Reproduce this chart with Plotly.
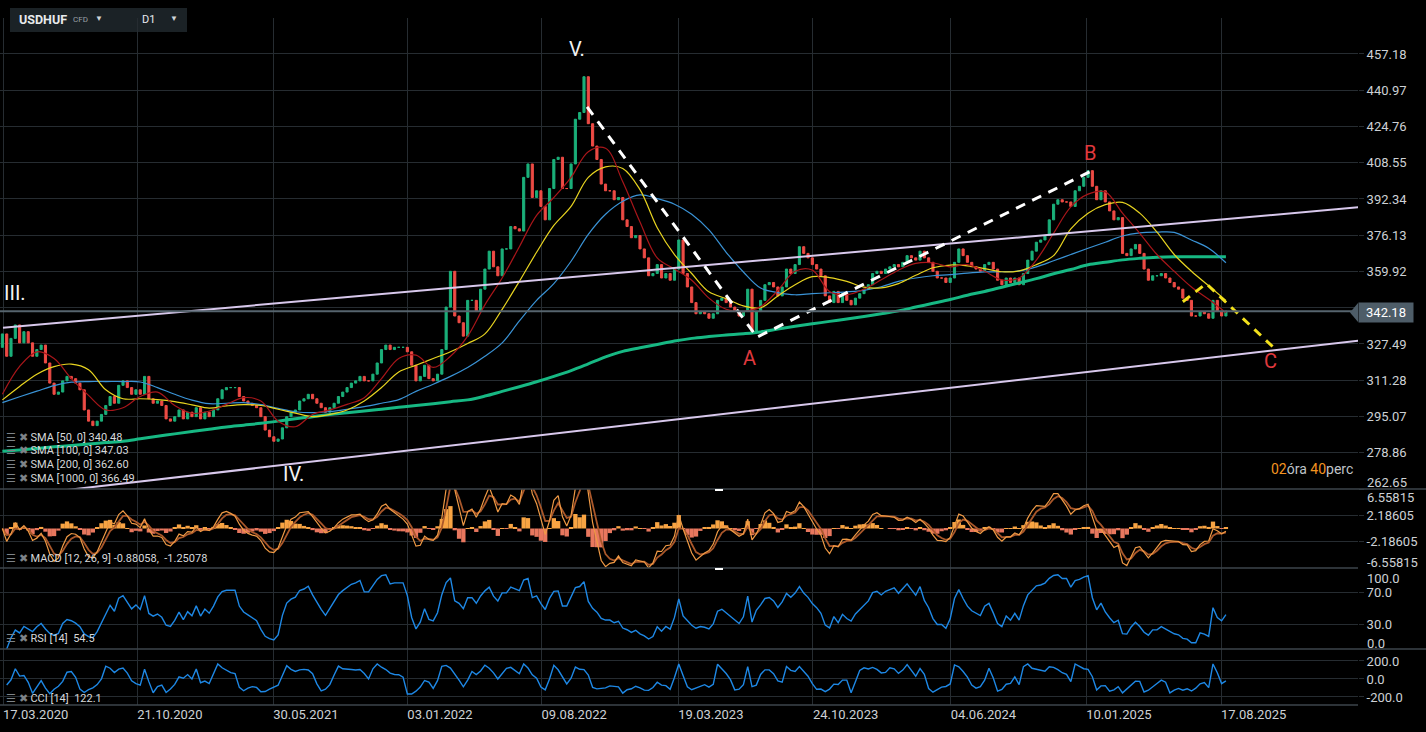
import numpy as np
import pandas as pd
import plotly.graph_objects as go
from plotly.subplots import make_subplots


# USDHUF, one close per week (first week starts 16.03.2020)
week_start = "2020-03-16"
first_open = 326.0
closes = [
    332, 322, 330, 336, 328, 333, 328, 322, 325, 327,
    319, 310, 305, 306, 311, 313, 312, 310, 307, 298,
    293, 291, 293, 296, 300, 304, 301, 309, 311, 308,
    305, 307, 305, 313, 303, 301, 302, 300, 294, 293,
    295, 298, 294, 297, 295, 299, 294, 297, 295, 298,
    303, 307, 308, 308, 308, 304, 302, 301, 300, 299,
    295, 289, 286, 284, 285, 290, 295, 297, 298, 302,
    303, 305, 303, 301, 299, 297, 299, 301, 304, 306,
    308, 310, 311, 313, 311, 311, 314, 319, 325, 327,
    325, 326, 326, 326, 324, 318, 311, 313, 318, 312,
    311, 314, 325, 344, 360, 340, 337, 331, 347, 347,
    342, 352, 361, 369, 362, 358, 370, 370, 380, 379,
    378, 402, 408, 393, 396, 389, 383, 397, 410, 411,
    397, 397, 408, 428, 431, 447, 426, 416, 410, 399,
    396, 396, 392, 393, 383, 380, 375, 376, 370, 366,
    358, 359, 363, 357, 359, 356, 361, 374, 359, 353,
    346, 341, 342, 341, 339, 341, 347, 348, 346, 344,
    342, 340, 342, 352, 333, 342, 347, 354, 355, 353,
    349, 353, 361, 359, 363, 371, 368, 366, 363, 361,
    358, 349, 346, 351, 346, 350, 347, 345, 348, 350,
    352, 354, 359, 360, 359, 361, 362, 363, 362, 364,
    367, 366, 365, 369, 366, 364, 360, 357, 357, 355,
    357, 364, 370, 367, 364, 362, 361, 360, 363, 364,
    361, 356, 354, 357, 355, 357, 354, 359, 365, 369,
    373, 374, 376, 383, 390, 392, 391, 391, 389, 396,
    398, 402, 405, 398, 392, 396, 391, 387, 383, 384,
    368, 367, 370, 372, 368, 361, 356, 358, 358, 359,
    357, 355, 353, 352, 348, 347, 340, 340, 342, 341,
    339, 347, 342, 340, 342.18,
]

# moving averages, one value every 4th week
sma_every = 4
sma50 = [
    305, 317.5, 324, 321, 312, 304.5, 298, 299, 304, 306,
    300, 296.5, 297.5, 300.5, 303.5, 302, 293, 290.5, 296, 298,
    300.5, 303.5, 312, 321, 322.5, 317, 322, 331, 345, 357,
    371, 385, 393, 402, 413.5, 415, 400, 382, 366, 361,
    356, 348, 343, 342, 344.2, 351.5, 360, 360.5, 351, 349.5,
    352, 356.2, 360.5, 363.5, 363.8, 362, 363, 360, 356.2, 357,
    365, 377, 388.8, 394.5, 395.5, 386, 377, 367.5, 360, 353,
    347.5, 341.5,
]
sma100 = [
    302.5, 308.5, 314, 317.4, 318.5, 316, 307, 303, 303, 302.6,
    301.7, 300.3, 298.8, 299.8, 300.4, 300, 298.3, 296.6, 295, 296,
    298, 302, 308, 315, 318, 321, 324, 327.7, 332, 343,
    355.5, 368.5, 380.5, 389, 402, 406.7, 406, 396.5, 379.5, 367.5,
    359, 350.8, 347.8, 344.5, 343.7, 349, 354, 357.6, 357.2, 355.5,
    352.9, 352.6, 354.5, 358.2, 361.6, 362.8, 362.4, 361.2, 359.8, 360.2,
    363, 367, 379, 386, 389.8, 390.8, 386, 377.5, 367.5, 360,
    353.5, 347,
]
sma200 = [
    301.3, 303.9, 306.4, 308.9, 310.4, 310.7, 310.7, 310.7, 310.5, 308,
    305, 302.4, 300.8, 301, 301.3, 300.4, 298.7, 297.2, 296.8, 297.3,
    298.3, 299.5, 301, 302.6, 306.3, 309.5, 313, 317, 322, 328,
    337.8, 347, 354.5, 364.5, 376.5, 385.5, 391.3, 394.2, 392.5, 390,
    385.5, 378.5, 368.5, 359.7, 352.5, 350.5, 349.5, 350, 350.4, 350.8,
    351.5, 353.1, 355.5, 357, 358, 358.5, 359.2, 359.7, 359.8, 360.2,
    362, 364.7, 367.5, 370.3, 373, 375.8, 377.2, 377.5, 377.4, 374,
    370.3, 363.8,
]
sma1000 = [
    279.5, 280.1, 280.8, 281.5, 282.1, 282.8, 283.4, 284, 285.1, 286.2,
    287.3, 288.4, 289.4, 290.4, 291.2, 292, 293, 294.1, 295, 296,
    296.7, 297.5, 298.3, 299.2, 300, 300.8, 301.7, 302.5, 304.2, 306.3,
    308.4, 310.6, 313, 315.6, 318.6, 321.7, 324.2, 325.8, 327.3, 328.8,
    330, 330.8, 331.5, 332.1, 332.9, 334.2, 335.4, 336.5, 337.6, 338.7,
    339.8, 341, 342.3, 344, 345.7, 347.4, 349.3, 351, 352.9, 354.8,
    356.7, 358.9, 360.8, 362.9, 364, 365.1, 365.8, 366.3, 366.5, 366.5,
    366.5, 366.5,
]

# hand drawn lines on the chart
channel_dates = ["2020-03-17", "2026-03-28"]
channel_upper = [334.8, 388.6]
channel_lower = [258.9, 329.0]
wave_va_dates = ["2022-10-22", "2023-07-22"]
wave_va_prices = [433.5, 331.7]
wave_ab_dates = ["2023-07-27", "2025-01-16"]
wave_ab_prices = [330.8, 404.5]
wave_c_dates = ["2025-06-16", "2025-07-24", "2025-11-14"]
wave_c_prices = [346.4, 354.5, 325.0]

tick_dates = [
    "2020-03-17", "2020-10-21", "2021-05-30", "2022-01-03", "2022-08-09",
    "2023-03-19", "2023-10-24", "2024-06-04", "2025-01-10", "2025-08-17",
]
price_ticks = [262.65, 278.86, 295.07, 311.28, 327.49, 343.70, 359.92,
               376.13, 392.34, 408.55, 424.76, 440.97, 457.18]
macd_ticks = [-2.18605, 2.18605]
rsi_ticks = [30, 70]
cci_ticks = [-200, 0, 200]

sma_labels = ["SMA [50, 0] 340.48", "SMA [100, 0] 347.03",
              "SMA [200, 0] 362.60", "SMA [1000, 0] 366.49"]
macd_label = "MACD [12, 26, 9] -0.88058,  -1.25078"
rsi_label = "RSI [14]  54.5"
cci_label = "CCI [14]  122.1"


# ---- bars and indicators --------------------------------------------------
# the bars are weekly, so the indicator lengths are given in weeks
MACD_FAST, MACD_SLOW, MACD_SIGNAL = 3, 6, 3
RSI_WEEKS = 6
CCI_WEEKS = 5

dates = pd.date_range(week_start, periods=len(closes), freq="7D")
close = pd.Series(closes, dtype=float)
opens = pd.Series([first_open] + closes[:-1], dtype=float)
highs = np.maximum(opens, close)
lows = np.minimum(opens, close)
sma_dates = dates[::sma_every]

fast = close.ewm(span=MACD_FAST, adjust=False).mean()
slow = close.ewm(span=MACD_SLOW, adjust=False).mean()
macd = fast - slow
signal = macd.ewm(span=MACD_SIGNAL, adjust=False).mean()
hist = macd - signal

delta = close.diff()
gain = delta.clip(lower=0).ewm(alpha=1 / RSI_WEEKS, adjust=False).mean()
loss = (-delta.clip(upper=0)).ewm(alpha=1 / RSI_WEEKS, adjust=False).mean()
rsi = 100 - 100 / (1 + gain / loss.replace(0, np.nan))

tp = (highs + lows + close) / 3
tp_mean = tp.rolling(CCI_WEEKS, min_periods=2).mean()
tp_dev = tp.rolling(CCI_WEEKS, min_periods=2).apply(
    lambda v: np.mean(np.abs(v - v.mean())), raw=True)
cci = (tp - tp_mean) / (0.015 * tp_dev.replace(0, np.nan))


# ---- page geometry (pixels of the 1426x732 picture) -----------------------
PLOT_W = 1358
TOP, BOTTOM = 18, 705
PX_PER_DAY = 0.61546


def px(x):
    return x / PLOT_W


def py(y):
    return (BOTTOM - y) / (BOTTOM - TOP)


day0 = pd.Timestamp("2020-03-17")
x_range = [day0 - pd.Timedelta(days=3 / PX_PER_DAY),
           day0 + pd.Timedelta(days=(PLOT_W - 3) / PX_PER_DAY)]

GRID = "#262c31"
TXT = "#cdd1d5"
FONT = "Roboto"

fig = make_subplots(rows=4, cols=1, shared_xaxes=True, vertical_spacing=0)

# price pane
fig.add_trace(go.Candlestick(
    x=dates, open=opens, high=highs, low=lows, close=close,
    increasing=dict(line=dict(color="#1bb07a", width=1), fillcolor="#1bb07a"),
    decreasing=dict(line=dict(color="#ee4b45", width=1), fillcolor="#ee4b45"),
    whiskerwidth=0,
), row=1, col=1)

for values, color, width in [(sma1000, "#17b883", 3), (sma200, "#3a93d6", 1.2),
                             (sma100, "#e8d420", 1.2), (sma50, "#a8161a", 1.2)]:
    fig.add_trace(go.Scatter(x=sma_dates, y=values, mode="lines",
                             line=dict(color=color, width=width, shape="spline")),
                  row=1, col=1)

for prices in (channel_upper, channel_lower):
    fig.add_trace(go.Scatter(x=channel_dates, y=prices, mode="lines",
                             line=dict(color="#d8c8ec", width=2)), row=1, col=1)

for d, p in [(wave_va_dates, wave_va_prices), (wave_ab_dates, wave_ab_prices)]:
    fig.add_trace(go.Scatter(x=d, y=p, mode="lines",
                             line=dict(color="#ffffff", width=3, dash="10px,8px")),
                  row=1, col=1)
fig.add_trace(go.Scatter(x=wave_c_dates, y=wave_c_prices, mode="lines",
                         line=dict(color="#f2e01c", width=3, dash="9px,7px")),
              row=1, col=1)

# MACD pane
fig.add_trace(go.Bar(x=dates, y=hist, width=7 * 86400000,
                     marker=dict(color=np.where(hist >= 0, "#f8a443", "#e8775e"),
                                 line=dict(width=0))), row=2, col=1)
fig.add_trace(go.Scatter(x=dates, y=signal, mode="lines",
                         line=dict(color="#a9572a", width=1.8)), row=2, col=1)
fig.add_trace(go.Scatter(x=dates, y=macd, mode="lines",
                         line=dict(color="#f09a45", width=1.2)), row=2, col=1)

# RSI and CCI panes
fig.add_trace(go.Scatter(x=dates, y=rsi, mode="lines",
                         line=dict(color="#1e88e5", width=1.4)), row=3, col=1)
fig.add_trace(go.Scatter(x=dates, y=cci, mode="lines",
                         line=dict(color="#1e88e5", width=1.4)), row=4, col=1)

fig.update_xaxes(range=x_range, tickvals=tick_dates, showgrid=True,
                 gridcolor=GRID, gridwidth=1, zeroline=False, showline=False,
                 rangeslider_visible=False, showticklabels=False)
fig.update_xaxes(row=4, col=1, showticklabels=True, tickformat="%d.%m.%Y",
                 ticklabelposition="outside right", ticks="",
                 tickfont=dict(color=TXT, size=13, family=FONT))

axis_common = dict(side="right", showgrid=True, gridcolor=GRID, zeroline=False,
                   showline=False, ticks="outside", ticklen=5, tickcolor=GRID,
                   tickfont=dict(color=TXT, size=13, family=FONT))
fig.update_yaxes(**axis_common)
# 262.65 sits on the pane edge and 343.70 is hidden by the last-price box
fig.update_yaxes(row=1, col=1, range=[262.65, 473.26], tickvals=price_ticks,
                 ticktext=["" if v in (262.65, 343.70) else f"{v:.2f}"
                           for v in price_ticks])
fig.update_yaxes(row=2, col=1, range=[-6.55815, 6.55815], tickvals=macd_ticks,
                 ticktext=[f"{v:.5f}" for v in macd_ticks])
fig.update_yaxes(row=3, col=1, range=[0, 100], tickvals=rsi_ticks,
                 ticktext=[f"{v:.1f}" for v in rsi_ticks])
fig.update_yaxes(row=4, col=1, range=[-289, 333], tickvals=cci_ticks,
                 ticktext=[f"{v:.1f}" for v in cci_ticks])

fig.update_layout(
    width=1426, height=732,
    margin=dict(l=0, r=1426 - PLOT_W, t=TOP, b=732 - BOTTOM),
    paper_bgcolor="#000000", plot_bgcolor="#000000",
    showlegend=False, hovermode=False,
    font=dict(family=FONT, color=TXT),
    yaxis=dict(domain=[py(489), 1]),
    yaxis2=dict(domain=[py(568), py(489)]),
    yaxis3=dict(domain=[py(649), py(568)]),
    yaxis4=dict(domain=[0, py(649)]),
)

shapes = [
    # header box
    dict(type="rect", xref="paper", yref="paper", x0=px(10), x1=px(187),
         y0=py(32), y1=py(8), fillcolor="#1b2226", line=dict(width=0), layer="below"),
    # last price line
    dict(type="line", xref="paper", yref="y", x0=0, x1=1, y0=close.iloc[-1],
         y1=close.iloc[-1], line=dict(color="#56646e", width=2)),
    dict(type="path", xref="paper", yref="paper",
         path=f"M {px(1350)},{py(312.5)} L {px(1358)},{py(303)} L {px(1358)},{py(322)} Z",
         fillcolor="#4e5d68", line=dict(width=0)),
    # pane separators
    dict(type="line", xref="paper", yref="paper", x0=0, x1=px(1426),
         y0=py(489), y1=py(489), line=dict(color="#3d454b", width=1.5)),
    dict(type="line", xref="paper", yref="paper", x0=0, x1=1,
         y0=py(568), y1=py(568), line=dict(color="#3d454b", width=1.5)),
    dict(type="line", xref="paper", yref="paper", x0=0, x1=px(1426),
         y0=py(649), y1=py(649), line=dict(color="#3d454b", width=1.5)),
    dict(type="line", xref="paper", yref="paper", x0=0, x1=1,
         y0=0, y1=0, line=dict(color="#3d454b", width=1.5)),
    dict(type="line", xref="paper", yref="paper", x0=px(715), x1=px(723),
         y0=py(490), y1=py(490), line=dict(color="#ffffff", width=2)),
    dict(type="line", xref="paper", yref="paper", x0=px(715), x1=px(723),
         y0=py(569), y1=py(569), line=dict(color="#ffffff", width=2)),
]
fig.update_layout(shapes=shapes)


def note(text, x, y, size=12, color=TXT, anchor="left", **kw):
    fig.add_annotation(text=text, xref="paper", yref="paper", x=px(x), y=py(y),
                       xanchor=anchor, yanchor="middle", showarrow=False,
                       font=dict(size=size, color=color, family=FONT), **kw)


# header
note("<b>USDHUF</b>", 17, 20, size=12.5, color="#e8eaec")
note("CFD", 71, 19, size=8, color="#9aa0a6")
note("▼", 93, 18, size=8, color="#d0d4d8")
note("D1", 140, 20, size=11, color="#e8eaec")
note("▼", 168, 18, size=8, color="#d0d4d8")

# right side labels sitting at the pane edges
note("342.18", 1386, 312.5, size=13, color="#ffffff", anchor="center",
     bgcolor="#4e5d68", width=52, height=17, borderpad=1)
for text, y in [("262.65", 482), ("6.55815", 497), ("-6.55815", 562),
                ("100.0", 578), ("0.0", 643)]:
    note(text, 1365, y, size=13)

# wave labels
note("III.", 2, 293, size=20, color="#f2f2f2")
note("IV.", 293, 474, size=20, color="#f2f2f2", anchor="center")
note("V.", 577, 49, size=20, color="#f2f2f2", anchor="center")
note("A", 749, 358, size=20, color="#e0393e", anchor="center")
note("B", 1090, 153, size=20, color="#e0393e", anchor="center")
note("C", 1270, 361, size=20, color="#e0393e", anchor="center")

# indicator captions
icon = '<span style="color:#7d8388">☰ ✖</span> '
for i, label in enumerate(sma_labels):
    note(icon + label, 4, 437 + 13.7 * i, size=11, color="#d6d8da")
note(icon + macd_label, 4, 558, size=11, color="#d6d8da")
note(icon + rsi_label, 4, 638, size=11, color="#d6d8da")
note(icon + cci_label, 4, 698, size=11, color="#d6d8da")

note('<span style="color:#f39420">02</span>óra <span style="color:#f39420">40</span>perc',
     1269, 469, size=14, color="#bfc3c7")

# the page body has a default margin; drop it so the chart sits at the corner
fig.write_html("out.html", config={"displayModeBar": False},
               post_script="document.body.style.margin='0px';")
